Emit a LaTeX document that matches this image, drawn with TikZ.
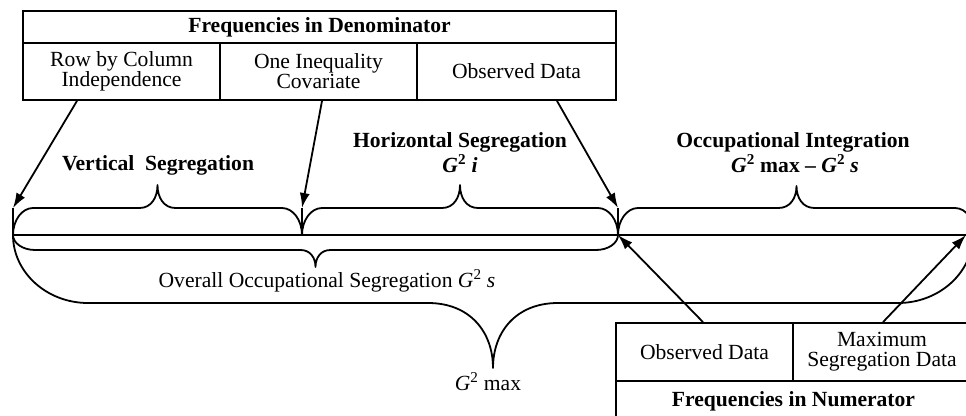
\documentclass[tikz,border=0pt]{standalone}
\usepackage{fontspec}
\setmainfont{Liberation Serif}
\usetikzlibrary{arrows.meta}
% #1 x1, #2 x2, #3 y base, #4 y flat, #5 y tip, #6 end width, #7 tip width
\newcommand\BraceDraw[7]{%
  \draw[bracel] (#1,#3)
    .. controls (#1,{#3+0.55*(#4-#3)}) and ({#1+0.45*#6},#4) .. ({#1+#6},#4)
    -- ({(#1+#2)/2-#7},#4)
    .. controls ({(#1+#2)/2-0.35*#7},#4) and ({(#1+#2)/2},{#4+0.45*(#5-#4)}) .. ({(#1+#2)/2},#5)
    .. controls ({(#1+#2)/2},{#4+0.45*(#5-#4)}) and ({(#1+#2)/2+0.35*#7},#4) .. ({(#1+#2)/2+#7},#4)
    -- ({#2-#6},#4)
    .. controls ({#2-0.45*#6},#4) and (#2,{#3+0.55*(#4-#3)}) .. (#2,#3);}
\begin{document}
\begin{tikzpicture}[x=1pt,y=-1pt,
  txt/.style={font=\fontsize{21.6}{20}\selectfont, inner sep=0pt},
  btxt/.style={font=\fontsize{21.6}{20}\selectfont\bfseries, inner sep=0pt},
  cell/.style={draw, line width=1.8pt, align=center, inner sep=0pt},
  arr/.style={-{Latex[length=15pt,width=10pt]}, line width=1.8pt},
  bracel/.style={line width=1.8pt, line join=round},
  baseline/.style={line width=1.4pt},
  tick/.style={line width=1.2pt}]
\clip (0,0) rectangle (966,415);
\fill[white] (0,0) rectangle (966,415);

% top table
\node[cell, btxt, minimum width=593pt, minimum height=32pt] (dentitle) at (319.5,27) {Frequencies in Denominator};
\node[cell, txt, minimum width=197pt, minimum height=57pt] (rbc) at (121.5,71.5) {Row by Column\\Independence};
\node[cell, txt, minimum width=197pt, minimum height=57pt] (oic) at (318.5,71.5) {One Inequality\\Covariate};
\node[cell, txt, minimum width=199pt, minimum height=57pt] (od) at (516.5,71.5) {Observed Data};

% bottom table
\node[cell, txt, minimum width=177pt, minimum height=58pt] (od2) at (704.5,352) {Observed Data};
\node[cell, txt, minimum width=178pt, minimum height=58pt] (msd) at (882,352) {Maximum\\Segregation Data};
\node[cell, btxt, minimum width=355pt, minimum height=40pt] (numtitle) at (793.5,401) {Frequencies in Numerator};

% main line and points
\coordinate (v0) at (13,235);
\coordinate (v1) at (302,235);
\coordinate (v2) at (618,235);
\coordinate (v3) at (966,235);
\coordinate (t0) at (13,208);
\coordinate (t1) at (302,208);
\coordinate (t2) at (618,208);
\draw[baseline] (v0) -- (v3);
\draw[tick] (t0) -- (v0);
\draw[tick] (t1) -- (v1);
\draw[tick] (t2) -- (v2);

% braces
\BraceDraw{13}{302}{235}{208}{185}{20}{18}
\BraceDraw{302}{618}{235}{208}{185}{20}{18}
\BraceDraw{618}{975}{235}{208}{186}{20}{18}
\BraceDraw{13}{618}{235}{250}{267}{22}{15}
\BraceDraw{13}{973}{235}{303}{368}{75}{65}

% arrows
\draw[arr] ([xshift=-44.5pt]rbc.south) -- (t0);
\draw[arr] ([xshift=3.5pt]oic.south) -- (t1);
\draw[arr] ([xshift=40.5pt]od.south) -- (t2);
\draw[arr] ([xshift=-1.5pt]od2.north) -- (v2);
\draw[arr] ([xshift=1pt]msd.north) -- (v3);

% labels
\node[btxt, anchor=base] (vs) at (158,170) {Vertical\ \ Segregation};
\node[btxt, anchor=base] (hs) at (460,147) {Horizontal Segregation};
\node[btxt, anchor=base] (hsg) at (460,172) {\textit{G}\textsuperscript{2}~\textit{i}};
\node[btxt, anchor=base] (oi) at (793,147) {Occupational Integration};
\node[btxt, anchor=base] (oig) at (795,172) {\textit{G}\textsuperscript{2} max -- \textit{G}\textsuperscript{2} \textit{s}};
\node[txt, anchor=base] (oos) at (327,287) {Overall Occupational Segregation \textit{G}\textsuperscript{2} \textit{s}};
\node[txt, anchor=base] (gmax) at (488,390) {\textit{G}\textsuperscript{2} max};
\end{tikzpicture}
\end{document}
